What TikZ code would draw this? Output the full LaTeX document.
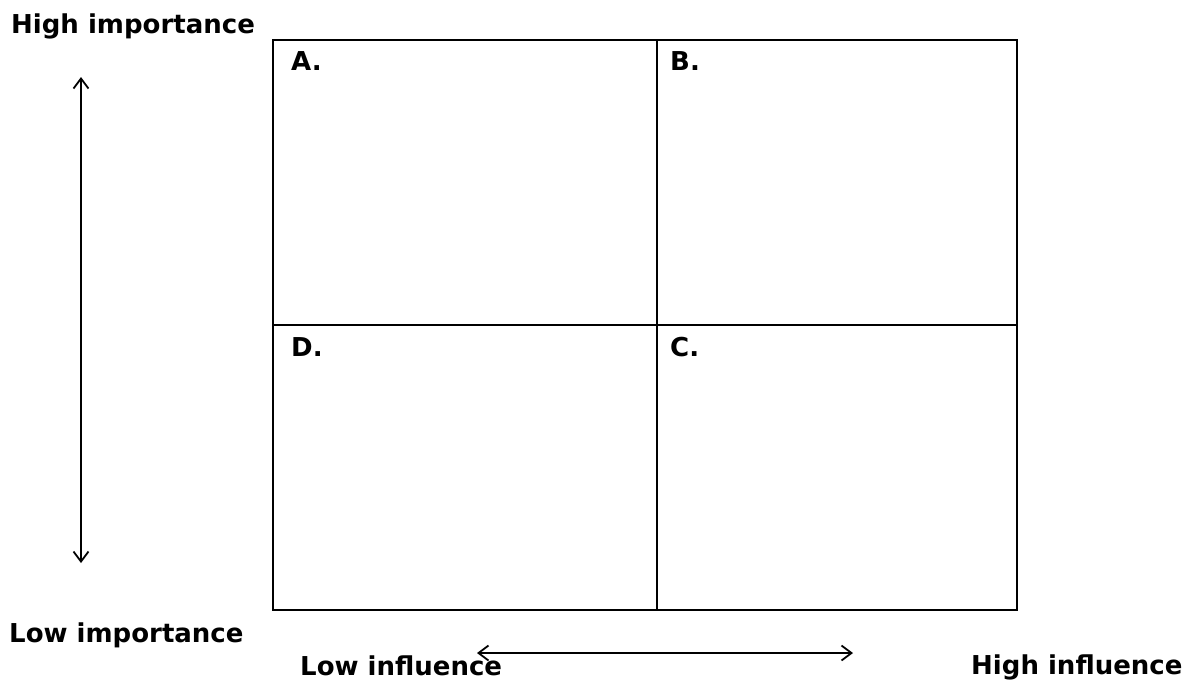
\documentclass[tikz,border=0pt]{standalone}
\usepackage{fontspec}
\setmainfont{DejaVu Sans}
\usetikzlibrary{arrows.meta}
\begin{document}
\begin{tikzpicture}[x=1pt,y=-1pt,
  lbl/.style={anchor=base west,inner sep=0pt,font=\bfseries\fontsize{26}{30}\selectfont},
  gridline/.style={line width=2.8pt},
  axisarrow/.style={line width=1.8pt,{Straight Barb[length=10pt,width=15pt]}-{Straight Barb[length=10pt,width=15pt]}}]
\useasboundingbox (0,0) rectangle (1188,681);
% grid
\coordinate (tl) at (273,40);
\coordinate (br) at (1017,610);
\coordinate (mt) at (657,40);
\coordinate (mb) at (657,610);
\coordinate (ml) at (273,325);
\coordinate (mr) at (1017,325);
\draw[gridline] (tl) rectangle (br);
\draw[gridline] (mt) -- (mb);
\draw[gridline] (ml) -- (mr);
% quadrant labels
\node[lbl] (A) at (291,70) {A.};
\node[lbl] (B) at (670,70) {B.};
\node[lbl] (D) at (291,356) {D.};
\node[lbl] (C) at (670,356) {C.};
% axis labels
\node[lbl] (hi) at (11,33) {High importance};
\node[lbl] (lo) at (9,642) {Low importance};
\node[lbl] (linf) at (300,675) {Low influence};
\node[lbl] (hinf) at (971,674) {High influence};
% arrows
\coordinate (vt) at (81,77);
\coordinate (vb) at (81,563);
\coordinate (hl) at (477,653);
\coordinate (hr) at (853,653);
\draw[axisarrow] (vb) -- (vt);
\draw[axisarrow] (hl) -- (hr);
\end{tikzpicture}
\end{document}
